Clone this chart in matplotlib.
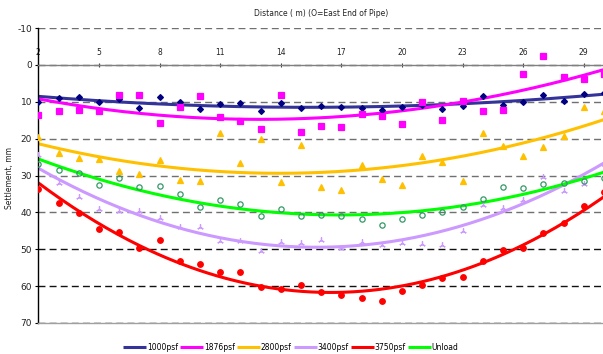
import numpy as np
import matplotlib
matplotlib.use("Agg")
import matplotlib.pyplot as plt

plt.rcParams["axes.unicode_minus"] = False

# Distance along the pipe (m)
distance = list(range(2, 31))

# Settlement readings (mm) for each load stage
s1000 = [10.0, 9.0, 8.6, 10.0, 9.2, 11.7, 8.8, 10.0, 12.0, 10.6,
         10.4, 12.5, 10.4, 11.8, 11.1, 11.5, 11.8, 12.3, 11.5, 10.8,
         12.0, 11.1, 8.5, 10.8, 10.0, 8.3, 9.7, 7.9, 7.5]
s1876 = [13.5, 12.5, 12.2, 12.5, 8.2, 8.2, 15.8, 11.5, 8.4, 14.1,
         15.1, 17.5, 8.2, 18.1, 16.6, 16.9, 13.2, 13.9, 16.1, 10.2,
         14.9, 9.7, 12.5, 12.2, 2.5, -2.3, 3.2, 3.8, 2.5]
s2800 = [19.5, 24.0, 25.3, 25.6, 28.7, 29.7, 25.9, 31.2, 31.5, 18.6,
         26.6, 20.0, 31.7, 21.7, 33.1, 33.9, 27.2, 30.9, 32.7, 24.7,
         26.4, 31.5, 18.4, 22.1, 24.6, 22.4, 19.4, 11.3, 12.6]
s3400 = [24.5, 32.1, 35.7, 39.0, 39.7, 39.7, 41.5, 44.0, 44.0, 47.7,
         47.7, 50.5, 48.1, 48.3, 47.6, 49.6, 48.1, 48.9, 48.3, 48.7,
         48.8, 45.0, 38.0, 38.7, 36.6, 30.4, 34.2, 32.3, 27.0]
s3750 = [33.6, 37.4, 40.2, 44.6, 45.2, 49.6, 47.4, 53.1, 54.1, 56.3,
         56.3, 60.2, 60.9, 59.7, 61.7, 62.5, 63.3, 64.0, 61.3, 59.8,
         57.9, 57.6, 53.1, 50.2, 49.6, 45.5, 42.8, 38.4, 34.5]
unload = [27.0, 28.5, 29.2, 32.5, 30.8, 33.2, 32.8, 35.0, 38.5, 36.7,
          37.7, 41.1, 39.1, 40.9, 40.7, 41.0, 41.8, 43.4, 41.7, 40.8,
          39.9, 38.6, 36.4, 33.2, 33.5, 32.3, 32.1, 31.4, 30.6]

labels = ["1000psf", "1876psf", "2800psf", "3400psf", "3750psf", "Unload"]
series = [s1000, s1876, s2800, s3400, s3750, unload]

x_ticks = list(range(2, 31, 3))
y_ticks = list(range(-10, 71, 10))

# (line colour, marker, marker face, marker edge, marker size)
styles = [
    ("#333399", "D", "#000080", "#000080", 3.0),
    ("#ff00ff", "s", "#ff00ff", "#ff00ff", 4.0),
    ("#ffc000", "^", "#ffc000", "#ffc000", 4.0),
    ("#cc99ff", (3, 2, 0), "#cc99ff", "#cc99ff", 4.5),
    ("#ff0000", "o", "#ff0000", "#ff0000", 4.0),
    ("#00ff00", "o", "none", "#339966", 3.8),
]

fig = plt.figure(figsize=(6.03, 3.54), dpi=100)
left, right = 38.3 / 603, 604 / 603
top, bottom = 1 - 28 / 354, 1 - 323 / 354
ax = fig.add_axes([left, bottom, right - left, top - bottom])

x = np.array(distance, dtype=float)
xs = np.linspace(2, 30, 200)
handles = []
for (lc, mk, mf, me, ms), lab, vals in zip(styles, labels, series):
    y = np.array(vals, dtype=float)
    ax.plot(x, y, linestyle="none", marker=mk, markerfacecolor=mf,
            markeredgecolor=me, markersize=ms, markeredgewidth=0.9,
            zorder=3)
    # second-order polynomial trend through each stage
    coef = np.polyfit(x, y, 2)
    h, = ax.plot(xs, np.polyval(coef, xs), color=lc, linewidth=2.2,
                 solid_capstyle="butt", zorder=2, label=lab)
    handles.append(h)

ax.set_xlim(2, 30)
ax.set_ylim(70, -10)
ax.set_yticks(y_ticks)
ax.set_xticks(x_ticks)

# Horizontal axis runs along zero settlement with labels above it
ax.spines["top"].set_position(("data", 0))
ax.spines["top"].set_color("#808080")
ax.spines["top"].set_linewidth(1.0)
ax.spines["right"].set_visible(False)
ax.spines["bottom"].set_color("#a0a0a0")
ax.spines["bottom"].set_linewidth(1.0)
ax.spines["left"].set_color("black")
ax.spines["left"].set_linewidth(1.0)
ax.xaxis.set_ticks_position("top")
ax.tick_params(axis="x", direction="inout", length=3, width=0.8,
               color="#404040", labelsize=5.5, pad=4, labelcolor="#222222")
ax.tick_params(axis="y", direction="out", length=2.5, width=0.8,
               labelsize=6.5, pad=2, labelcolor="#222222")

ax.set_axisbelow(True)
ax.yaxis.grid(True, linestyle=(0, (5, 3)), linewidth=1.0)
ax.xaxis.grid(False)
for val, gl in zip(y_ticks, ax.get_ygridlines()):
    gl.set_color("#111111" if val >= 50 else "#707070")

fig.text(321 / 603, 1 - 14 / 354, "Distance ( m) (O=East End of Pipe)",
         ha="center", va="center", fontsize=5.5, color="#222222")
fig.text(10 / 603, 1 - 178 / 354, "Settlement, mm", rotation=90,
         ha="center", va="center", fontsize=5.5, color="#222222")

fig.legend(handles=handles, labels=labels, loc="center",
           bbox_to_anchor=(291 / 603, 1 - 347 / 354), ncol=6, frameon=False,
           fontsize=5.5, handlelength=3.0, handletextpad=0.1,
           columnspacing=0.3, borderpad=0)

fig.savefig("out.png", dpi=100)
